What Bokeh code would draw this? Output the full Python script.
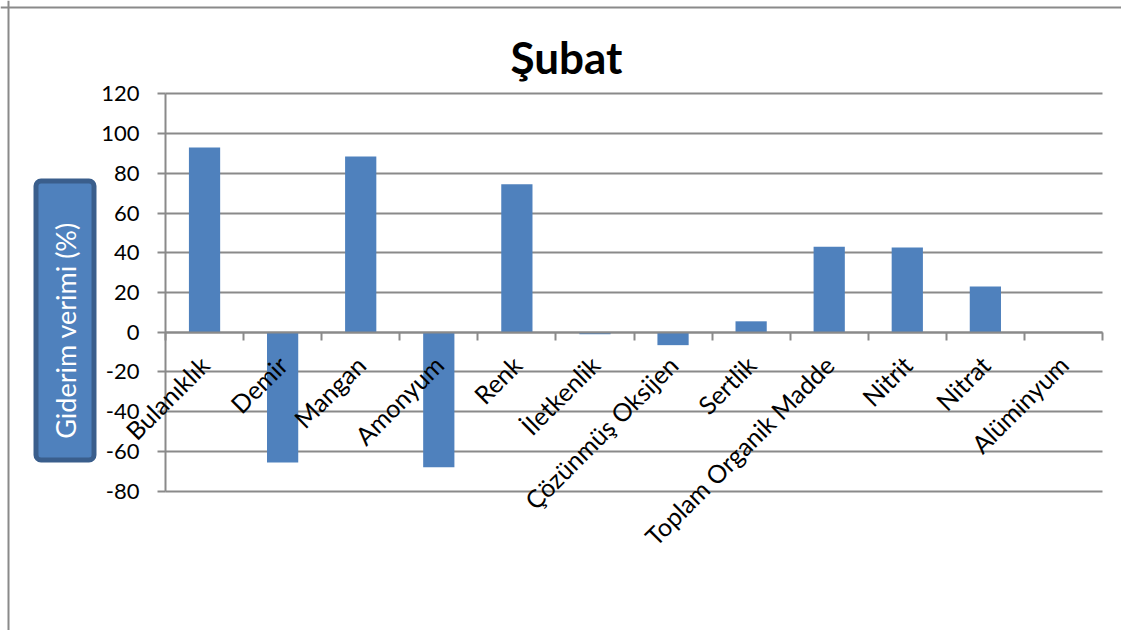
from math import pi

from bokeh.core.properties import value
from bokeh.embed import file_html
from bokeh.models import (BoxAnnotation, ColumnDataSource, FixedTicker, Label,
                          LabelSet, Range1d, Span)
from bokeh.plotting import figure
from bokeh.resources import INLINE

# Removal efficiency per parameter (%), February
categories = ["Bulanıklık", "Demir", "Mangan", "Amonyum", "Renk", "İletkenlik",
              "Çözünmüş Oksijen", "Sertlik", "Toplam Organik Madde", "Nitrit",
              "Nitrat", "Alüminyum"]
values = [93.0, -65.5, 88.5, -68.0, 74.5, -1.0, -6.5, 5.5, 43.0, 42.7, 23.0, 0.0]
y_ticks = [-80, -60, -40, -20, 0, 20, 40, 60, 80, 100, 120]

FONT = "Lato"
GRAY = "#8a8a8a"
BAR = "#4f81bd"

W, H = 1121, 630
N = len(categories)
Y_MIN, Y_MAX = y_ticks[0], y_ticks[-1]

# plot area placement inside the canvas (pixels)
AREA_L, AREA_R, AREA_T, AREA_B = 165, 1102, 93.3, 490.7
px_x = (AREA_R - AREA_L) / N
px_y = (AREA_B - AREA_T) / (Y_MAX - Y_MIN)

source = ColumnDataSource(dict(
    x=[i + 0.5 for i in range(N)],
    top=values,
    label=categories,
))

# the frame spans the whole canvas so that outer texts are never clipped
x_range = Range1d(-AREA_L / px_x, N + (W - AREA_R) / px_x)
y_range = Range1d(Y_MIN - (H - AREA_B) / px_y, Y_MAX + AREA_T / px_y)

p = figure(width=W, height=H, output_backend="svg", toolbar_location=None,
           x_range=x_range, y_range=y_range,
           min_border=0, min_border_left=0, min_border_right=0,
           min_border_top=0, min_border_bottom=0)
p.outline_line_color = None
p.background_fill_color = "white"
p.border_fill_color = "white"

# value axis on the left edge of the category span
yax = p.yaxis[0]
yax.fixed_location = 0
yax.bounds = (Y_MIN, Y_MAX)
yax.ticker = FixedTicker(ticks=y_ticks)
yax.major_label_overrides = {t: str(t) for t in y_ticks}
yax.axis_line_color = GRAY
yax.axis_line_width = 2
yax.major_tick_line_color = GRAY
yax.major_tick_line_width = 2
yax.major_tick_out = 8
yax.major_tick_in = 0
yax.minor_tick_line_color = None
yax.major_label_text_font = FONT
yax.major_label_text_font_size = "22px"
yax.major_label_text_color = "black"
yax.major_label_standoff = 18

# category axis on the zero line, ticks between categories
xax = p.xaxis[0]
xax.fixed_location = 0
xax.bounds = (0, N)
xax.ticker = FixedTicker(ticks=list(range(N + 1)))
xax.axis_line_color = GRAY
xax.axis_line_width = 2
xax.major_tick_line_color = GRAY
xax.major_tick_line_width = 2
xax.major_tick_out = 8
xax.major_tick_in = 0
xax.minor_tick_line_color = None
xax.major_label_text_font_size = "0px"
xax.major_label_text_color = None

p.ygrid.ticker = FixedTicker(ticks=y_ticks)
p.ygrid.grid_line_color = GRAY
p.ygrid.grid_line_width = 2
p.ygrid.cross_bounds = (0, N)
p.xgrid.grid_line_color = None

p.vbar(x="x", top="top", bottom=0, width=0.4, source=source,
       fill_color=BAR, line_color=None)

# slanted category names
names = LabelSet(x="x", y=0, text="label", source=source, angle=pi / 4,
                 y_offset=-28, text_align="right", text_baseline="middle",
                 text_font=value(FONT), text_font_size=value("25px"),
                 text_color="black")
p.add_layout(names)

# chart title (canvas units, measured from the top-left corner)
p.add_layout(Label(x=566, y=56, x_units="canvas", y_units="canvas",
                   text="Şubat", text_align="center", text_baseline="alphabetic",
                   text_font=FONT, text_font_style="bold",
                   text_font_size="44px", text_color="black"))

# outer chart border: only its left and top edges fall inside the canvas
p.add_layout(Span(location=8, dimension="height", location_units="canvas",
                  line_color=GRAY, line_width=2))
p.add_layout(Span(location=7, dimension="width", location_units="canvas",
                  line_color=GRAY, line_width=2))

# axis title badge
p.add_layout(BoxAnnotation(left=35.5, right=93.5, top=180.5, bottom=459.5,
                           left_units="canvas", right_units="canvas",
                           top_units="canvas", bottom_units="canvas",
                           fill_color=BAR, fill_alpha=1.0,
                           line_color="#3a5e8c", line_alpha=1.0, line_width=5,
                           border_radius=5))
p.add_layout(Label(x=65, y=330, x_units="canvas", y_units="canvas",
                   text="Giderim verimi (%)", angle=pi / 2,
                   text_align="center", text_baseline="middle",
                   text_font=FONT, text_font_size="27px", text_color="white"))

open("out.html", "w").write(file_html(p, INLINE))
